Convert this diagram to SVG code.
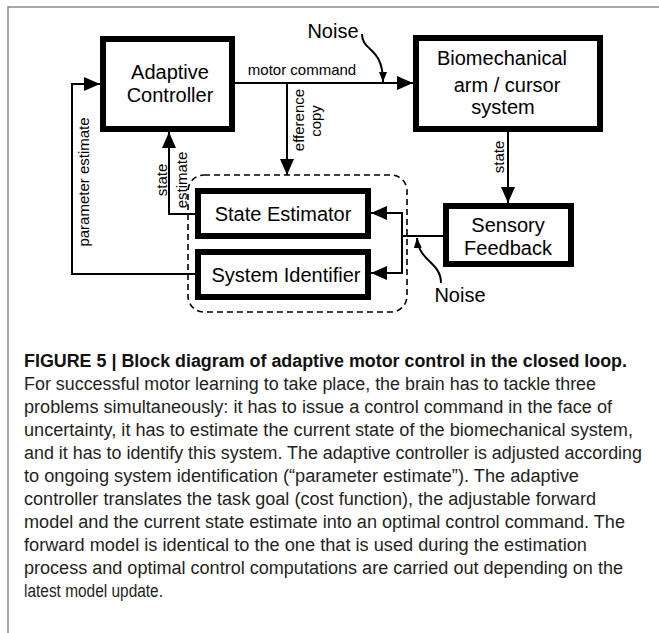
<svg xmlns="http://www.w3.org/2000/svg" width="659" height="633" viewBox="0 0 659 633">
<style>
.box{fill:#fff;stroke:#000;stroke-width:6}
.lbl{font-family:"Liberation Sans",Arial,sans-serif;font-size:20px;fill:#000;text-anchor:middle}
.sm{font-family:"Liberation Sans",Arial,sans-serif;font-size:15px;fill:#000;text-anchor:middle}
.ln{fill:none;stroke:#000;stroke-width:2}
.cap{font-family:"Liberation Sans",Arial,sans-serif;font-size:18px;fill:#231f20}
.capb{font-family:"Liberation Sans",Arial,sans-serif;font-size:18px;font-weight:bold;fill:#111}
</style>
<defs>
<marker id="ah" viewBox="0 0 16 14" refX="16" refY="7" markerWidth="16" markerHeight="14" markerUnits="userSpaceOnUse" orient="auto"><path d="M0,0 L16,7 L0,14 z" fill="#000"/></marker>
<marker id="ahs" viewBox="0 0 10 8" refX="10" refY="4" markerWidth="10" markerHeight="8" markerUnits="userSpaceOnUse" orient="auto"><path d="M0,0 L10,4 L0,8 z" fill="#000"/></marker>
</defs>
<rect width="659" height="633" fill="#fff"/>
<path d="M8,633 V7 H659" fill="none" stroke="#8a8a8a" stroke-width="1.5"/>

<g id="group-dashed">
<rect x="188" y="175" width="219" height="137" rx="16" ry="16" fill="none" stroke="#000" stroke-width="1.6" stroke-dasharray="6,4"/>
</g>

<g id="connectors">
<path class="ln" d="M235,83 H413" marker-end="url(#ah)"/>
<path class="ln" d="M287,83 V175" marker-end="url(#ah)"/>
<path class="ln" d="M195,274 H72 V84 H100" marker-end="url(#ah)"/>
<path class="ln" d="M195,214 H169 V132" marker-end="url(#ah)"/>
<path class="ln" d="M508,132 V203" marker-end="url(#ah)"/>
<path class="ln" d="M443,236 H402"/>
<path class="ln" d="M402,236 V213 H371" marker-end="url(#ah)"/>
<path class="ln" d="M402,236 V273 H371" marker-end="url(#ah)"/>
<path class="ln" d="M362,34 C362,52 383,46 383,82" stroke-width="1.3" marker-end="url(#ahs)"/>
<path class="ln" d="M441,283 C441,262 419,262 417,238" stroke-width="1.3" marker-end="url(#ahs)"/>
<text class="sm" x="302" y="75">motor command</text>
<text class="sm" transform="translate(304,120) rotate(-90)">efference</text>
<text class="sm" transform="translate(321,121) rotate(-90)">copy</text>
<text class="sm" transform="translate(89,182) rotate(-90)">parameter estimate</text>
<text class="sm" transform="translate(167,180) rotate(-90)">state</text>
<text class="sm" transform="translate(187,180) rotate(-90)">estimate</text>
<text class="sm" transform="translate(504,157) rotate(-90)">state</text>
<text class="lbl" x="333" y="38">Noise</text>
<text class="lbl" x="460" y="302">Noise</text>
</g>

<g id="node-adaptive-controller">
<rect class="box" x="103" y="39" width="129" height="90"/>
<text class="lbl" x="170" y="79">Adaptive</text>
<text class="lbl" x="170" y="102">Controller</text>
</g>

<g id="node-biomechanical">
<rect class="box" x="416" y="38" width="184" height="91"/>
<text class="lbl" x="502" y="65">Biomechanical</text>
<text class="lbl" x="507" y="92">arm / cursor</text>
<text class="lbl" x="503" y="114">system</text>
</g>

<g id="node-sensory-feedback">
<rect class="box" x="446" y="206" width="125" height="58"/>
<text class="lbl" x="508" y="232">Sensory</text>
<text class="lbl" x="508" y="255">Feedback</text>
</g>

<g id="node-state-estimator">
<rect class="box" x="198" y="191" width="170" height="45"/>
<text class="lbl" x="283" y="221">State Estimator</text>
</g>

<g id="node-system-identifier">
<rect class="box" x="198" y="252" width="170" height="45"/>
<text class="lbl" x="286" y="282">System Identifier</text>
</g>

<g id="caption">
<text class="capb" x="24" y="367" textLength="603" lengthAdjust="spacingAndGlyphs">FIGURE 5 | Block diagram of adaptive motor control in the closed loop.</text>
<text class="cap" x="24" y="390" textLength="572" lengthAdjust="spacingAndGlyphs">For successful motor learning to take place, the brain has to tackle three</text>
<text class="cap" x="24" y="413" textLength="588" lengthAdjust="spacingAndGlyphs">problems simultaneously: it has to issue a control command in the face of</text>
<text class="cap" x="24" y="436" textLength="609" lengthAdjust="spacingAndGlyphs">uncertainty, it has to estimate the current state of the biomechanical system,</text>
<text class="cap" x="24" y="459" textLength="618" lengthAdjust="spacingAndGlyphs">and it has to identify this system. The adaptive controller is adjusted according</text>
<text class="cap" x="24" y="482" textLength="555" lengthAdjust="spacingAndGlyphs">to ongoing system identification (“parameter estimate”). The adaptive</text>
<text class="cap" x="24" y="505" textLength="572" lengthAdjust="spacingAndGlyphs">controller translates the task goal (cost function), the adjustable forward</text>
<text class="cap" x="24" y="528" textLength="601" lengthAdjust="spacingAndGlyphs">model and the current state estimate into an optimal control command. The</text>
<text class="cap" x="24" y="551" textLength="563" lengthAdjust="spacingAndGlyphs">forward model is identical to the one that is used during the estimation</text>
<text class="cap" x="24" y="574" textLength="599" lengthAdjust="spacingAndGlyphs">process and optimal control computations are carried out depending on the</text>
<text class="cap" x="24" y="597" textLength="139" lengthAdjust="spacingAndGlyphs">latest model update.</text>
</g>
</svg>
